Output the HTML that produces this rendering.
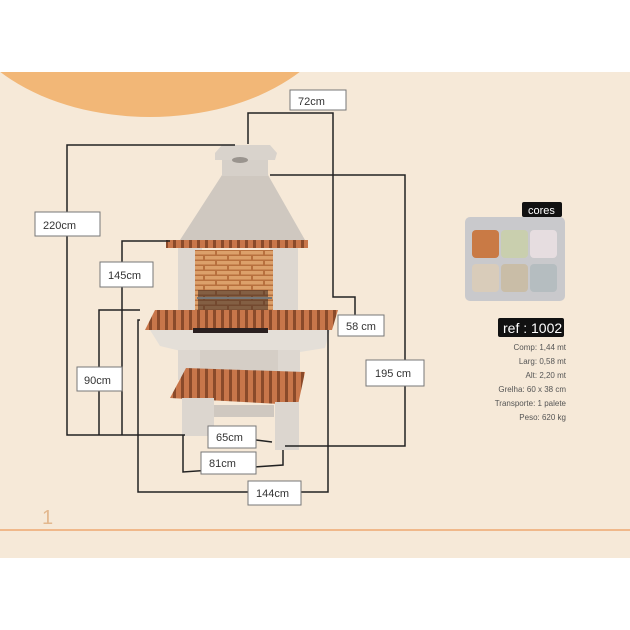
<!DOCTYPE html>
<html><head><meta charset="utf-8"><style>
html,body{margin:0;padding:0;background:#fff;}
svg{display:block;font-family:"Liberation Sans",sans-serif;}
</style></head><body>
<svg width="630" height="630" viewBox="0 0 630 630" xmlns="http://www.w3.org/2000/svg">
<defs>
<pattern id="br" width="24" height="10" patternUnits="userSpaceOnUse">
<rect width="24" height="10" fill="#b8703e"/><rect x="1" y="1" width="22" height="3.5" fill="#dca06a"/><rect x="-11" y="6" width="22" height="3.5" fill="#dca06a"/><rect x="13" y="6" width="22" height="3.5" fill="#dca06a"/>
</pattern>
<pattern id="sl" width="8" height="10" patternUnits="userSpaceOnUse">
<rect width="8" height="10" fill="#8a4a2a"/><rect width="5" height="10" fill="#c8764a"/>
</pattern>
</defs>
<rect x="0" y="72" width="630" height="486" fill="#f6e9d8"/>
<clipPath id="c"><rect x="0" y="72" width="630" height="486"/></clipPath>
<ellipse cx="150" cy="-10" rx="196" ry="127" fill="#f2b777" clip-path="url(#c)"/>
<line x1="0" y1="530" x2="630" y2="530" stroke="#f0b88a" stroke-width="2"/>
<text x="42" y="524" font-size="20" fill="#e3b88e">1</text>

<g>
<polygon points="222,175 268,175 305,240 180,240" fill="#cfc8c0"/>
<rect x="222" y="158" width="46" height="18" fill="#d6d0c9"/>
<polygon points="222,145 270,145 277,153 275,160 215,160 215,153" fill="#d9d3cc"/>
<ellipse cx="240" cy="160" rx="8" ry="3" fill="#9a948e"/>
<rect x="178" y="248" width="24" height="68" fill="#ddd7d0"/>
<rect x="270" y="248" width="28" height="68" fill="#ddd7d0"/>
<rect x="195" y="250" width="78" height="62" fill="url(#br)"/>
<rect x="198" y="290" width="70" height="22" fill="#3a2a22" opacity="0.55"/>
<line x1="197" y1="298" x2="272" y2="298" stroke="#777" stroke-width="2"/>
<rect x="166" y="240" width="142" height="8" fill="url(#sl)"/>
<polygon points="150,330 330,330 325,348 300,352 185,352 160,346" fill="#e4dfd8"/>
<rect x="180" y="350" width="115" height="35" fill="#d5cec6"/>
<rect x="178" y="350" width="22" height="30" fill="#ddd7d0"/>
<rect x="278" y="350" width="22" height="35" fill="#ddd7d0"/>
<polygon points="155,310 338,310 332,330 145,330" fill="url(#sl)"/>
<rect x="193" y="328" width="75" height="5" fill="#2a2020"/>
<polygon points="186,368 305,372 298,405 170,398" fill="url(#sl)"/>
<rect x="182" y="398" width="32" height="38" fill="#dcd6cf"/>
<rect x="214" y="405" width="60" height="12" fill="#cfc8c0"/>
<rect x="275" y="402" width="24" height="48" fill="#dcd6cf"/>
</g>

<g fill="none" stroke="#222" stroke-width="1.5">
<polyline points="235,145 67,145 67,435 185,435"/>
<polyline points="248,144 248,113 333,113 333,297 355,297 355,318"/>
<polyline points="270,175 405,175 405,446 285,446"/>
<polyline points="170,241 122,241 122,435"/>
<polyline points="140,310 99,310 99,435"/>
<polyline points="183,435 183,472 283,465 283,450"/>
<polyline points="140,320 138,320 138,492 328,492 328,330"/>
<polyline points="256,440 272,442"/>
</g>
<g font-size="11" fill="#333" stroke="#777" stroke-width="1">
<rect x="35" y="212" width="65" height="24" fill="#fff"/><text x="43" y="229" stroke="none">220cm</text>
<rect x="290" y="90" width="56" height="20" fill="#fff"/><text x="298" y="105" stroke="none">72cm</text>
<rect x="100" y="262" width="53" height="25" fill="#fff"/><text x="108" y="279" stroke="none">145cm</text>
<rect x="77" y="367" width="45" height="24" fill="#fff"/><text x="84" y="384" stroke="none">90cm</text>
<rect x="338" y="315" width="46" height="21" fill="#fff"/><text x="346" y="330" stroke="none">58 cm</text>
<rect x="366" y="360" width="58" height="26" fill="#fff"/><text x="375" y="377" stroke="none">195 cm</text>
<rect x="208" y="426" width="48" height="22" fill="#fff"/><text x="216" y="441" stroke="none">65cm</text>
<rect x="201" y="452" width="55" height="22" fill="#fff"/><text x="209" y="467" stroke="none">81cm</text>
<rect x="248" y="481" width="53" height="24" fill="#fff"/><text x="256" y="497" stroke="none">144cm</text>
</g>

<rect x="522" y="202" width="40" height="15" rx="2" fill="#111"/>
<text x="528" y="214" font-size="11" fill="#fff">cores</text>
<rect x="465" y="217" width="100" height="84" rx="5" fill="#c9c9cc"/>
<rect x="472" y="230" width="27" height="28" rx="4" fill="#c97a45"/>
<rect x="501" y="230" width="27" height="28" rx="4" fill="#c9cfae"/>
<rect x="530" y="230" width="27" height="28" rx="4" fill="#e6dde0"/>
<rect x="472" y="264" width="27" height="28" rx="4" fill="#d9ccba"/>
<rect x="501" y="264" width="27" height="28" rx="4" fill="#c9bda7"/>
<rect x="530" y="264" width="27" height="28" rx="4" fill="#b5bdc0"/>
<rect x="498" y="318" width="66" height="19" rx="2" fill="#111"/>
<text x="503" y="333" font-size="14" fill="#fff">ref : 1002</text>
<g font-size="8" fill="#555" text-anchor="end">
<text x="566" y="350">Comp: 1,44 mt</text>
<text x="566" y="364">Larg: 0,58 mt</text>
<text x="566" y="378">Alt: 2,20 mt</text>
<text x="566" y="392">Grelha: 60 x 38 cm</text>
<text x="566" y="406">Transporte: 1 palete</text>
<text x="566" y="420">Peso: 620 kg</text>
</g>
</svg>
</body></html>
